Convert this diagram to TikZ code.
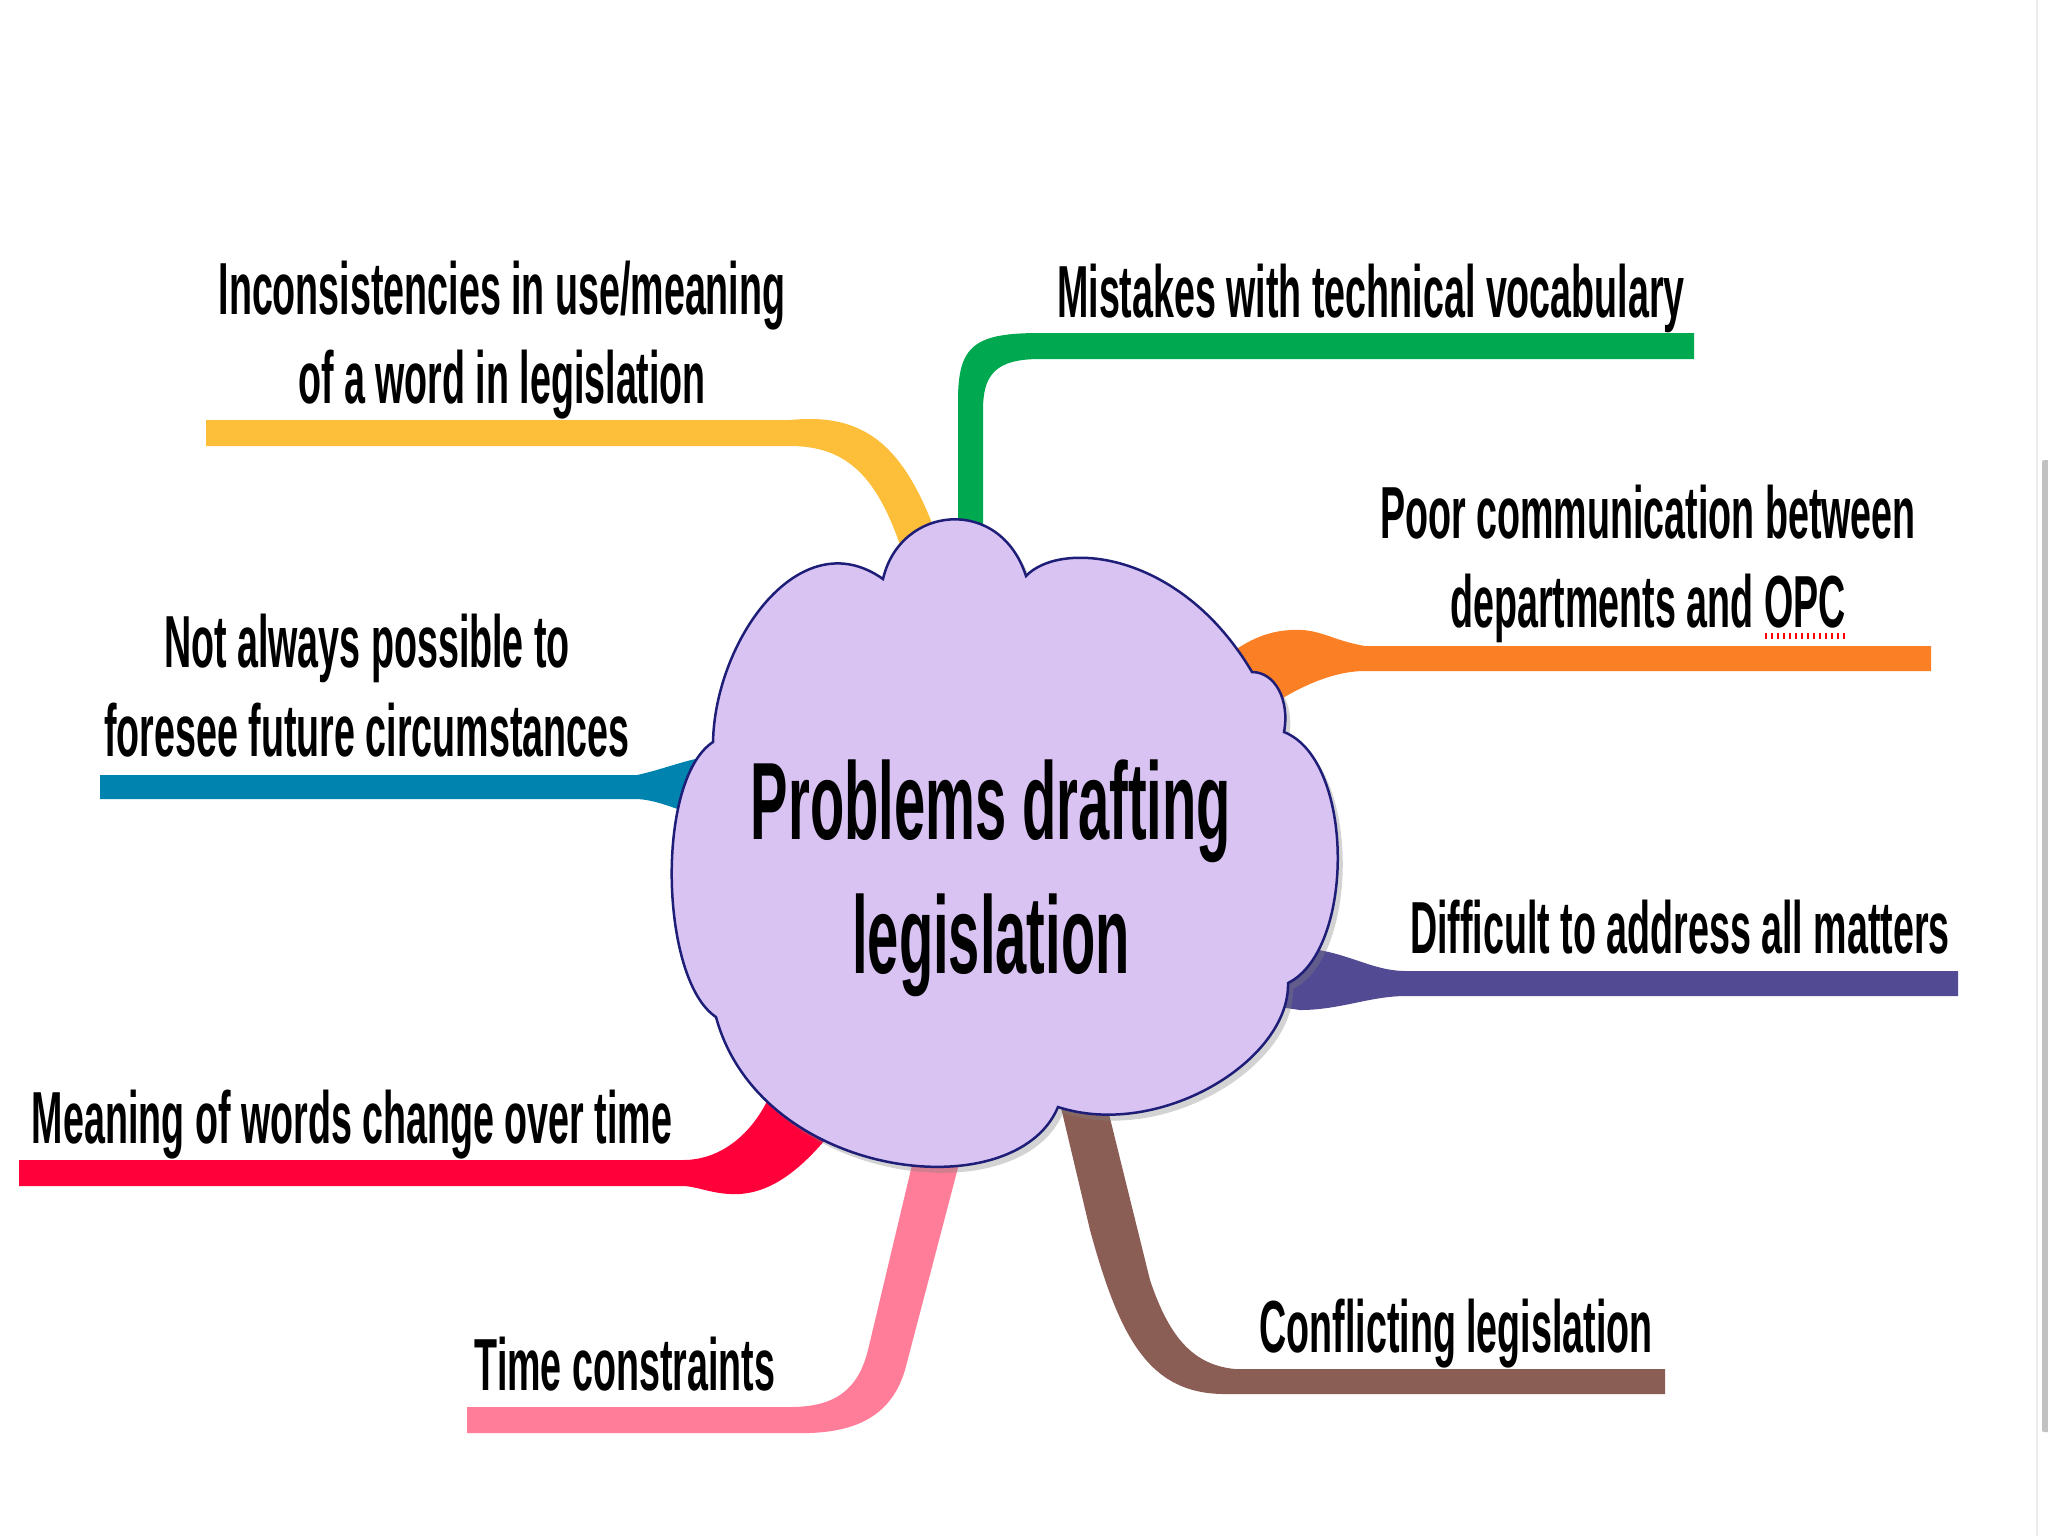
\documentclass[tikz,border=0pt]{standalone}
\usepackage{fontspec}
\newfontfamily\slidefont{Liberation Sans}[FakeStretch=0.51]
\usepackage{tikz}
\usetikzlibrary{shadows}

\definecolor{cloudfill}{HTML}{D8C3F3}
\definecolor{cloudline}{HTML}{1E1E78}
\definecolor{bryellow}{HTML}{FDBE3A}
\definecolor{brgreen}{HTML}{00A84F}
\definecolor{brorange}{HTML}{FB7F24}
\definecolor{brpurple}{HTML}{524A93}
\definecolor{brbrown}{HTML}{8B5E55}
\definecolor{brpink}{HTML}{FF7D98}
\definecolor{brred}{HTML}{FF003B}
\definecolor{brteal}{HTML}{0083AF}

\begin{document}
\begin{tikzpicture}[
  x=0.1mm, y=-0.1mm,
  leaf/.style={font=\slidefont\bfseries\fontsize{21}{25.3}\selectfont, align=center, inner sep=0pt},
  hub/.style={font=\slidefont\bfseries\fontsize{31.3}{38.1}\selectfont, align=center, inner sep=0pt},
  puff/.style={fill=cloudfill, draw=cloudline, line width=0.25mm,
    drop shadow={shadow xshift=0.5mm, shadow yshift=-0.6mm, opacity=0.35}}
]
\useasboundingbox (0,0) rectangle (2048,1536);

% branches, drawn under the cloud
\fill[bryellow] (206,420) -- (790,420) .. controls (870,412) and (910,450) .. (945,560)
  -- (905,560) .. controls (880,480) and (850,446) .. (790,446) -- (206,446) -- cycle;
\fill[brgreen] (958,560) -- (958,400) .. controls (958,345) and (975,333) .. (1040,333)
  -- (1694,333) -- (1694,359) -- (1040,359) .. controls (995,359) and (983,375) .. (983,410)
  -- (983,560) -- cycle;
\fill[brorange] (1931,646) -- (1365,646) .. controls (1330,640) and (1320,628) .. (1290,630)
  .. controls (1260,632) and (1240,645) .. (1215,665) -- (1250,720)
  .. controls (1290,690) and (1330,671) .. (1365,671) -- (1931,671) -- cycle;
\fill[brpurple] (1958,971) -- (1406,971) .. controls (1370,971) and (1345,950) .. (1300,948)
  -- (1265,950) -- (1265,1005) -- (1300,1010) .. controls (1340,1010) and (1370,996) .. (1406,996)
  -- (1958,996) -- cycle;
\fill[brbrown] (1665,1369) -- (1235,1369) .. controls (1195,1365) and (1170,1340) .. (1150,1280)
  -- (1108,1110) -- (1058,1095) -- (1090,1230) .. controls (1120,1340) and (1150,1394) .. (1225,1394)
  -- (1665,1394) -- cycle;
\fill[brpink] (467,1407) -- (790,1407) .. controls (835,1407) and (858,1390) .. (868,1350)
  -- (912,1165) -- (960,1160) -- (905,1370) .. controls (890,1420) and (850,1435) .. (790,1433)
  -- (467,1433) -- cycle;
\fill[brred] (19,1160) -- (683,1160) .. controls (720,1160) and (752,1135) .. (770,1095)
  -- (825,1140) .. controls (795,1175) and (765,1196) .. (730,1194)
  .. controls (710,1193) and (695,1186) .. (683,1186) -- (19,1186) -- cycle;
\fill[brteal] (100,775) -- (637,775) .. controls (660,770) and (680,762) .. (700,758)
  -- (722,760) -- (722,815) -- (700,815) .. controls (680,812) and (660,800) .. (637,799)
  -- (100,799) -- cycle;

% cloud
\path[puff] (883,579) .. controls (900,505) and (1000,495) .. (1026,576)
  .. controls (1060,540) and (1180,550) .. (1252,672)
  .. controls (1275,672) and (1290,700) .. (1284,732)
  .. controls (1355,760) and (1355,950) .. (1288,983)
  .. controls (1290,1060) and (1160,1140) .. (1058,1107)
  .. controls (1015,1210) and (760,1180) .. (716,1017)
  .. controls (660,980) and (655,780) .. (713,742)
  .. controls (715,640) and (800,520) .. (883,579) -- cycle;
\node[hub] (probs) at (991,878) {Problems drafting\\legislation};

\node[leaf] (incons) at (502,340) {Inconsistencies in use/meaning\\of a word in legislation};
\node[leaf, anchor=base] (mistakes) at (1371,317) {Mistakes with technical vocabulary};
\node[leaf] (poorcomm) at (1648,564) {Poor communication between\\departments and OPC};
\node[leaf, anchor=base] (difficult) at (1680,953) {Difficult to address all matters};
\node[leaf, anchor=base] (conflict) at (1456,1352) {Conflicting legislation};
\node[leaf, anchor=base] (timec) at (625,1390) {Time constraints};
\node[leaf, anchor=base] (meaning) at (352,1143) {Meaning of words change over time};
\node[leaf] (foresee) at (367,686) {Not always possible to\\foresee future circumstances};

\draw[red, line width=0.6mm, dash pattern=on 0.2mm off 0.4mm] (1765,636) -- (1845,636);

% scroll bar
\fill[black!8] (2036,0) rectangle (2038,1536);
\fill[black!24, rounded corners=0.2mm] (2042,460) rectangle (2052,1432);
\end{tikzpicture}
\end{document}
